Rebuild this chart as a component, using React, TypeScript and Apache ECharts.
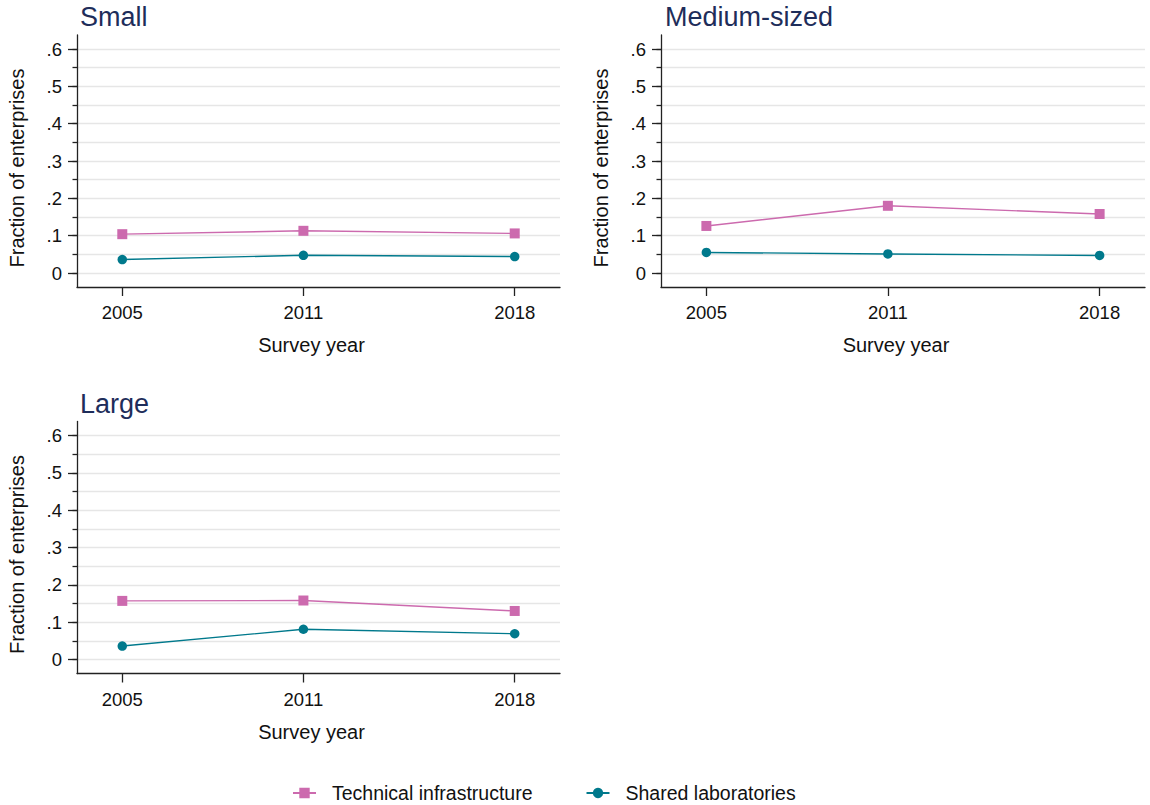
import React, { useEffect, useRef } from 'react';
import * as echarts from 'echarts';

const years = [2005, 2011, 2018];
const panelTitles = ['Small', 'Medium-sized', 'Large'];
const seriesNames = ['Technical infrastructure', 'Shared laboratories'];

const techSmall = [0.104, 0.113, 0.106];
const sharedSmall = [0.036, 0.0475, 0.044];
const techMedium = [0.126, 0.18, 0.158];
const sharedMedium = [0.055, 0.051, 0.047];
const techLarge = [0.157, 0.158, 0.13];
const sharedLarge = [0.036, 0.081, 0.069];

const yMajorTicks = [0, 0.1, 0.2, 0.3, 0.4, 0.5, 0.6];
const yMinorTicks = [0, 0.05, 0.1, 0.15, 0.2, 0.25, 0.3, 0.35, 0.4, 0.45, 0.5, 0.55, 0.6];

const xTitle = 'Survey year';
const yTitle = 'Fraction of enterprises';

const PINK = '#cc6aae';
const TEAL = '#00798c';
const AXIS = '#222222';
const GRIDC = '#e6e6e6';
const TITLEC = '#1e2d5a';
const FONT = '"Liberation Sans", Arial, sans-serif';

const grids = [
  { left: 77, top: 35, width: 483, height: 252 },
  { left: 661, top: 35, width: 484, height: 252 },
  { left: 77, top: 421.5, width: 483, height: 252 },
];
const titlePos = [
  { left: 80, top: 3 },
  { left: 665, top: 3 },
  { left: 80, top: 390 },
];
const techData = [techSmall, techMedium, techLarge];
const sharedData = [sharedSmall, sharedMedium, sharedLarge];

function fmtY(v: number) {
  if (Math.abs(v) < 1e-9) return '0';
  return String(+v.toFixed(1)).replace(/^0\./, '.');
}

function buildOption() {
  const xAxis: any[] = [];
  const yAxis: any[] = [];
  const series: any[] = [];
  grids.forEach((g, i) => {
    xAxis.push({
      type: 'value',
      gridIndex: i,
      min: 2003.5,
      max: 2019.5,
      name: xTitle,
      nameLocation: 'middle',
      nameGap: 48,
      nameTextStyle: { fontSize: 20, color: '#111', fontFamily: FONT, padding: [0, 14, 0, 0] },
      axisLine: { show: true, onZero: false, lineStyle: { color: AXIS, width: 1.3 } },
      axisTick: { show: true, length: 9, customValues: years, lineStyle: { color: AXIS, width: 1.3 } },
      axisLabel: {
        show: true,
        customValues: years,
        margin: 16,
        fontSize: 18.5,
        color: '#111',
        fontFamily: FONT,
        formatter: (v: number) => String(Math.round(v)),
      },
      splitLine: { show: false },
    });
    yAxis.push({
      type: 'value',
      gridIndex: i,
      min: -0.0375,
      max: 0.6375,
      position: 'left',
      axisLine: { show: true, onZero: false, lineStyle: { color: AXIS, width: 1.3 } },
      axisTick: { show: true, length: 4.5, customValues: yMinorTicks, lineStyle: { color: AXIS, width: 1.3 } },
      axisLabel: { show: false },
      splitLine: { show: true, lineStyle: { color: GRIDC, width: 1.3 } },
    });
    yAxis.push({
      type: 'value',
      gridIndex: i,
      min: -0.0375,
      max: 0.6375,
      position: 'left',
      offset: 0,
      name: yTitle,
      nameLocation: 'middle',
      nameGap: 50,
      nameTextStyle: { fontSize: 20, color: '#111', fontFamily: FONT, padding: [0, 14, 0, 0] },
      axisLine: { show: false, onZero: false },
      axisTick: { show: true, length: 9, customValues: yMajorTicks, lineStyle: { color: AXIS, width: 1.3 } },
      axisLabel: {
        show: true,
        customValues: yMajorTicks,
        margin: 15,
        fontSize: 18.5,
        color: '#111',
        fontFamily: FONT,
        formatter: fmtY,
      },
      splitLine: { show: false },
    });
    series.push({
      name: seriesNames[0],
      type: 'line',
      xAxisIndex: i,
      yAxisIndex: i * 2,
      data: years.map((y, k) => [y, techData[i][k]]),
      symbol: 'rect',
      symbolSize: 10,
      itemStyle: { color: PINK },
      lineStyle: { color: PINK, width: 1.4 },
      z: 3,
    });
    series.push({
      name: seriesNames[1],
      type: 'line',
      xAxisIndex: i,
      yAxisIndex: i * 2,
      data: years.map((y, k) => [y, sharedData[i][k]]),
      symbol: 'circle',
      symbolSize: 9.5,
      itemStyle: { color: TEAL },
      lineStyle: { color: TEAL, width: 1.4 },
      z: 3,
    });
  });

  return {
    animation: false,
    backgroundColor: '#ffffff',
    textStyle: { fontFamily: FONT },
    title: panelTitles.map((t, i) => ({
      text: t,
      left: titlePos[i].left,
      top: titlePos[i].top,
      padding: 0,
      textStyle: { fontSize: 27, fontWeight: 'normal', color: TITLEC, fontFamily: FONT },
    })),
    grid: grids.map((g) => ({ ...g, outerBoundsMode: 'none', containLabel: false })),
    xAxis,
    yAxis,
    legend: {
      data: seriesNames,
      left: 292,
      top: 783,
      padding: 0,
      itemWidth: 23,
      itemHeight: 13,
      itemGap: 53,
      textStyle: { fontSize: 19.5, color: '#111', fontFamily: FONT, padding: [0, 0, 0, 11] },
    },
    series,
  };
}

export default function App() {
  const ref = useRef<HTMLDivElement>(null);
  useEffect(() => {
    if (!ref.current) return;
    const chart = echarts.init(ref.current, undefined, { renderer: 'svg' });
    chart.setOption(buildOption() as any);
    return () => chart.dispose();
  }, []);
  return (
    <div
      ref={ref}
      style={{ position: 'fixed', left: 0, top: 0, width: 1150, height: 805, background: '#fff' }}
    />
  );
}
